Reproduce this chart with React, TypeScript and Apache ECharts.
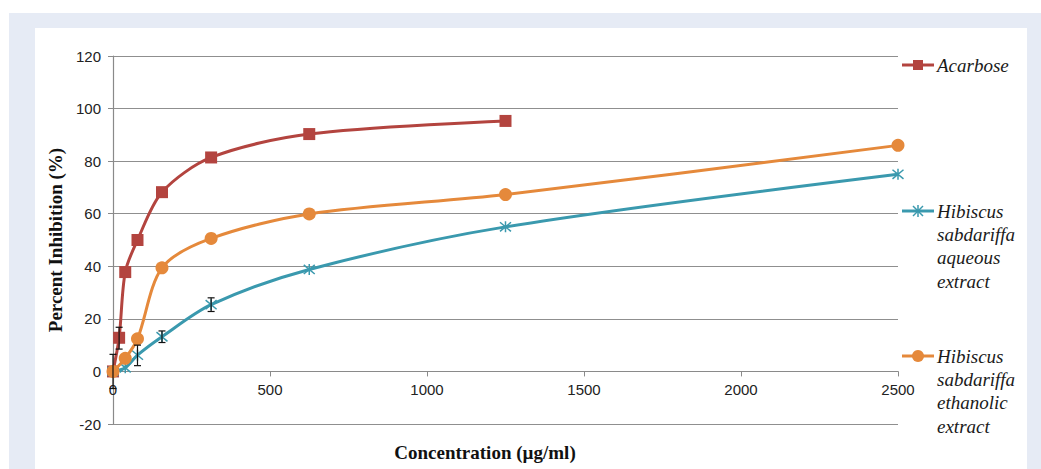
import React, { useEffect, useRef } from "react";
import * as echarts from "echarts";

const acarboseConc = [0, 19.5, 39, 78, 156, 312.5, 625, 1250];
const acarboseValues = [0, 12.8, 37.8, 50, 68.2, 81.4, 90.3, 95.3];

const aqueousConc = [0, 39, 78, 156, 312.5, 625, 1250, 2500];
const aqueousValues = [0, 1.4, 6.2, 13.2, 25.4, 38.8, 55, 75];

const ethanolicConc = [0, 39, 78, 156, 312.5, 625, 1250, 2500];
const ethanolicValues = [0, 5, 12.4, 39.4, 50.6, 59.9, 67.3, 86];

// error bars: [concentration, low, high]
const errorBars = [
  [0, -6.5, 6.5],
  [19.5, 8.5, 16.8],
  [78, 2.2, 10],
  [156, 11, 15.4],
  [312.5, 22.8, 28],
];

const yTicks = { min: -20, max: 120, interval: 20 };
const xTicks = { min: 0, max: 2500, interval: 500 };

const seriesNames = ["Acarbose", "Hibiscus sabdariffa aqueous extract", "Hibiscus sabdariffa ethanolic extract"];

const RED = "#b3443f";
const TEAL = "#3a99ae";
const ORANGE = "#e5893b";

const GRID_TOP = 56;
const GRID_BOTTOM = 45;
const CHART_H = 469;

const pair = (xs: number[], ys: number[]) => xs.map((x, i) => [x, ys[i]]);

export default function App() {
  const ref = useRef<HTMLDivElement>(null);
  useEffect(() => {
    if (!ref.current) return;
    const chart = echarts.init(ref.current, null, { renderer: "svg" });
    const legendFont = 'italic 19px "Liberation Serif", "Times New Roman", serif';
    const legendItem = (y: number, color: string, marker: any, lines: string[]) => [
      { type: "line", shape: { x1: 902, y1: y, x2: 934, y2: y }, style: { stroke: color, lineWidth: 3 } },
      marker,
      {
        type: "text",
        x: 937,
        y: y - 11.5,
        style: { text: lines.join("\n"), font: legendFont, fill: "#1a1a1a", lineHeight: 23.3, verticalAlign: "top", align: "left" },
      },
    ];
    const plotH = CHART_H - GRID_TOP - GRID_BOTTOM;
    const zeroOffset = -(plotH * (0 - yTicks.min)) / (yTicks.max - yTicks.min);
    chart.setOption({
      animation: false,
      backgroundColor: "transparent",
      grid: { left: 113, right: 143, top: GRID_TOP, bottom: GRID_BOTTOM, containLabel: false },
      xAxis: {
        type: "value",
        position: "bottom",
        offset: zeroOffset,
        min: xTicks.min,
        max: xTicks.max,
        interval: xTicks.interval,
        axisLine: { show: true, onZero: false, lineStyle: { color: "#8a8a8a", width: 1.2 } },
        axisTick: { show: true, length: 5, lineStyle: { color: "#8a8a8a" } },
        axisLabel: {
          margin: 11,
          color: "#222",
          fontSize: 15,
          fontFamily: '"Liberation Sans", Arial, sans-serif',
          formatter: (v: number) => String(v),
        },
        splitLine: { show: false },
      },
      yAxis: {
        type: "value",
        min: yTicks.min,
        max: yTicks.max,
        interval: yTicks.interval,
        name: "Percent Inhibition (%)",
        nameLocation: "middle",
        nameGap: 47,
        nameTextStyle: { fontFamily: '"Liberation Serif", "Times New Roman", serif', fontWeight: "bold", fontSize: 19, color: "#111" },
        axisLine: { show: true, onZero: false, lineStyle: { color: "#8a8a8a", width: 1.2 } },
        axisTick: { show: true, length: 5, lineStyle: { color: "#8a8a8a" } },
        axisLabel: { margin: 12, color: "#222", fontSize: 15, fontFamily: '"Liberation Sans", Arial, sans-serif' },
        splitLine: { show: true, lineStyle: { color: "#8f8f8f", width: 1 } },
      },
      graphic: [
        {
          type: "text",
          x: 485,
          y: 452,
          style: {
            text: "Concentration (µg/ml)",
            font: 'bold 19px "Liberation Serif", "Times New Roman", serif',
            fill: "#111",
            align: "center",
            verticalAlign: "middle",
          },
        },
        ...legendItem(65, RED, { type: "rect", shape: { x: 913, y: 60, width: 10, height: 10 }, style: { fill: RED } }, ["Acarbose"]),
        ...legendItem(211, TEAL, {
          type: "group",
          children: [
            { type: "line", shape: { x1: 913, y1: 206, x2: 923, y2: 216 }, style: { stroke: TEAL, lineWidth: 1.5 } },
            { type: "line", shape: { x1: 923, y1: 206, x2: 913, y2: 216 }, style: { stroke: TEAL, lineWidth: 1.5 } },
            { type: "line", shape: { x1: 918, y1: 205, x2: 918, y2: 217 }, style: { stroke: TEAL, lineWidth: 1.5 } },
          ],
        }, ["Hibiscus", "sabdariffa", "aqueous", "extract"]),
        ...legendItem(356, ORANGE, { type: "circle", shape: { cx: 918, cy: 356, r: 6 }, style: { fill: ORANGE } }, ["Hibiscus", "sabdariffa", "ethanolic", "extract"]),
      ],
      series: [
        {
          name: seriesNames[0],
          type: "line",
          smooth: 0.3,
          data: pair(acarboseConc, acarboseValues),
          symbol: "rect",
          symbolSize: 12,
          lineStyle: { color: RED, width: 3 },
          itemStyle: { color: RED },
          z: 3,
        },
        {
          name: seriesNames[1],
          type: "line",
          smooth: 0.3,
          data: pair(aqueousConc, aqueousValues),
          symbol: "path://M0,0L10,10M10,0L0,10M5,-1L5,11",
          symbolSize: 11,
          lineStyle: { color: TEAL, width: 3 },
          itemStyle: { color: "rgba(0,0,0,0)", borderColor: TEAL, borderWidth: 1.5 },
          z: 4,
        },
        {
          name: seriesNames[2],
          type: "line",
          smooth: 0.3,
          data: pair(ethanolicConc, ethanolicValues),
          symbol: "circle",
          symbolSize: 13,
          lineStyle: { color: ORANGE, width: 3 },
          itemStyle: { color: ORANGE },
          z: 5,
        },
        {
          name: "error",
          type: "custom",
          z: 6,
          data: errorBars,
          renderItem: (params: any, api: any) => {
            const x = api.value(0);
            const lo = api.coord([x, api.value(1)]);
            const hi = api.coord([x, api.value(2)]);
            const w = 3.5;
            const st = { stroke: "#111", lineWidth: 1.2 };
            return {
              type: "group",
              children: [
                { type: "line", shape: { x1: lo[0], y1: lo[1], x2: hi[0], y2: hi[1] }, style: st },
                { type: "line", shape: { x1: lo[0] - w, y1: lo[1], x2: lo[0] + w, y2: lo[1] }, style: st },
                { type: "line", shape: { x1: hi[0] - w, y1: hi[1], x2: hi[0] + w, y2: hi[1] }, style: st },
              ],
            };
          },
        },
      ],
    });
    return () => chart.dispose();
  }, []);

  return (
    <div style={{ position: "fixed", left: 0, top: 0, width: 1041, height: 469, background: "#ffffff", overflow: "hidden" }}>
      <div style={{ position: "absolute", left: 9, top: 13, width: 1032, height: 456, background: "#e6ebf5" }} />
      <div style={{ position: "absolute", left: 35, top: 28, width: 992, height: 441, background: "#ffffff" }} />
      <div ref={ref} style={{ position: "absolute", left: 0, top: 0, width: 1041, height: CHART_H }} />
    </div>
  );
}
